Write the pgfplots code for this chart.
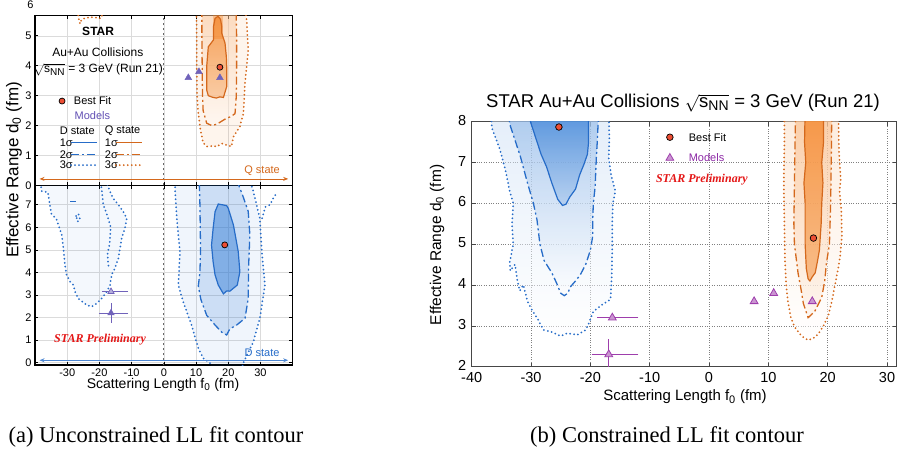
\documentclass[border=0pt]{standalone}
\usepackage{pgfplots}
\pgfplotsset{compat=1.18}
\usepackage{fontspec}
\setmainfont{Liberation Sans}
\newfontfamily\timesf{Liberation Serif}
\usetikzlibrary{arrows.meta}
\definecolor{cblue}{RGB}{38,108,200}
\definecolor{sblue}{RGB}{40,118,212}
\definecolor{corange}{RGB}{212,104,28}
\definecolor{sorange}{RGB}{244,128,30}
\definecolor{mpurple}{RGB}{158,62,172}
\definecolor{mtext}{RGB}{140,40,165}
\definecolor{lpurple}{RGB}{112,98,186}
\definecolor{ltext}{RGB}{98,80,180}
\definecolor{bfred}{RGB}{236,78,52}
\definecolor{prelim}{RGB}{228,22,22}
\definecolor{frame}{RGB}{70,70,70}
\newcommand{\fs}[1]{\fontsize{#1}{#1}\selectfont}
\newcommand{\sNN}[1]{$\sqrt{\mbox{s}_{\mbox{\fs{#1}NN}}}$}
\newcommand{\zsub}[1]{$_{\mbox{\fs{#1}0}}$}
\tikzset{
 sone/.style={line width=1.2pt},
 stwo/.style={line width=1.3pt, dash pattern=on 8pt off 3pt on 2pt off 3pt},
 sthree/.style={line width=2pt, line cap=round, dash pattern=on 0pt off 4pt},
}
\pgfplotsset{
 base/.style={scale only axis, anchor=south west, clip mode=individual,
   /pgf/number format/assume math mode=true, tick align=inside},
 leftax/.style={base, width=257.7pt, xmin=-40, xmax=40, xtick={-30,-20,...,30},
   axis line style={black, line width=1.1pt}, grid=major,
   major grid style={black!14, line width=0.5pt},
   tick style={black, line width=0.6pt}, major tick length=3.5pt,
   tick label style={font=\fs{11}}},
}
\begin{document}
\begin{tikzpicture}
\path[use as bounding box] (0pt,0pt) rectangle (907pt,453pt);

% ---------------- (a) top panel: Q state ----------------
\begin{axis}[leftax, name=qax, at={(35pt,267.5pt)}, height=169.8pt, ymin=0, ymax=5.67,
  ytick={0,...,5}, xticklabels={}]
\addplot[draw=none, fill=sorange, fill opacity=0.08] coordinates {(10.1,5.9) (10.2,5.0) (10.2,4.0) (10.3,3.0) (10.6,2.5) (11.3,1.9) (12.2,1.42) (13.5,1.3) (15.0,1.32) (16.5,1.3) (18.0,1.4) (19.5,1.35) (21.0,1.3) (21.6,1.63) (23.6,1.96) (24.7,2.41) (25.2,3.41) (26.2,4.52) (25.7,5.53) (25.2,5.9)} -- cycle;
\addplot[draw=none, top color=sorange!50, bottom color=sorange!5, fill opacity=0.5] coordinates {(11.8,5.9) (11.8,5.0) (11.9,4.0) (12.0,3.0) (12.2,2.5) (13.3,2.08) (14.9,2.0) (16.5,2.05) (18.0,2.15) (19.5,2.25) (20.8,2.3) (22.1,2.4) (22.5,3.0) (22.6,4.0) (22.6,5.0) (22.4,5.9)} -- cycle;
\addplot[draw=none, top color=sorange, bottom color=sorange!55, fill opacity=0.65] coordinates {(15.9,5.58) (16.8,5.65) (17.6,5.55) (18.0,5.3) (18.0,5.08) (19.0,4.75) (19.4,4.3) (19.5,3.97) (19.5,3.3) (18.5,2.94) (17.4,2.96) (16.3,2.92) (15.0,2.95) (13.8,3.0) (13.3,3.19) (13.3,3.97) (13.8,4.63) (15.4,4.86) (15.4,5.3)} -- cycle;
\addplot[draw=none, fill=sorange, fill opacity=0.35] coordinates {(15.4,5.9) (15.4,4.9) (18.3,4.9) (18.3,5.9)} -- cycle;
% contours
\addplot[corange, sthree] coordinates {(10.1,5.9) (10.2,5.0) (10.2,4.0) (10.3,3.0) (10.6,2.5) (11.3,1.9) (12.2,1.42) (13.5,1.3) (15.0,1.32) (16.5,1.3) (18.0,1.4) (19.5,1.35) (21.0,1.3) (21.6,1.63) (23.6,1.96) (24.7,2.41) (25.2,3.41) (26.2,4.52) (25.7,5.53) (25.2,5.9)};
\addplot[corange, stwo] coordinates {(11.8,5.9) (11.8,5.0) (11.9,4.0) (12.0,3.0) (12.2,2.5) (13.3,2.08) (14.9,2.0) (16.5,2.05) (18.0,2.15) (19.5,2.25) (20.8,2.3) (22.1,2.4) (22.5,3.0) (22.6,4.0) (22.6,5.0) (22.4,5.9)};
\addplot[corange, sone] coordinates {(15.9,5.58) (16.8,5.65) (17.6,5.55) (18.0,5.3) (18.0,5.08) (19.0,4.75) (19.4,4.3) (19.5,3.97) (19.5,3.3) (18.5,2.94) (17.4,2.96) (16.3,2.92) (15.0,2.95) (13.8,3.0) (13.3,3.19) (13.3,3.97) (13.8,4.63) (15.4,4.86) (15.4,5.3)} -- cycle;
\addplot[corange, sthree] coordinates {(-26.8,5.95) (-26.5,5.6) (-26.0,5.4) (-25.5,5.55) (-24.0,5.6) (-22.0,5.62) (-19.5,5.58) (-19.0,5.75) (-19.5,5.95)};
% zero line
\addplot[black!60, line width=1pt, dash pattern=on 2.5pt off 2.5pt] coordinates {(0,-1) (0,7)};
% Q state arrow
\addplot[corange, line width=0.8pt, arrows={Stealth[length=5pt,width=4pt]-Stealth[length=5pt,width=4pt]}] coordinates {(-38.6,0.22) (38.6,0.22)};
\node[corange, font=\fs{11}] at (axis cs:30.5,0.5) {Q state};
% markers
\addplot[only marks, mark=triangle*, mark size=3.9pt, mark options={fill=lpurple, draw=lpurple}] coordinates {(7.6,3.6) (10.9,3.8) (17.4,3.6)};
\addplot[only marks, mark=*, mark size=3pt, mark options={fill=bfred, draw=black, line width=0.7pt}] coordinates {(17.4,3.95)};
% text
\node[font=\bfseries\fs{12}] at (axis cs:-20.4,5.13) {STAR};
\node[font=\fs{12}] at (axis cs:-20.5,4.46) {Au+Au Collisions};
\node[font=\fs{12}] at (axis cs:-20.3,3.86) {\sNN{10} = 3 GeV (Run 21)};
\addplot[only marks, mark=*, mark size=3pt, mark options={fill=bfred, draw=black, line width=0.7pt}] coordinates {(-31.6,2.82)};
\node[font=\fs{11}, anchor=west] at (axis cs:-29.0,2.82) {Best Fit};
\node[font=\fs{11}, anchor=west, ltext] at (axis cs:-28.8,2.35) {Models};
\node[font=\fs{11}, anchor=west] at (axis cs:-33.4,1.83) {D state};
\node[font=\fs{11}, anchor=west] at (axis cs:-19.4,1.83) {Q state};
\node[font=\fs{11}, anchor=west] at (axis cs:-33.4,1.44) {1σ};
\node[font=\fs{11}, anchor=west] at (axis cs:-33.4,1.03) {2σ};
\node[font=\fs{11}, anchor=west] at (axis cs:-33.4,0.68) {3σ};
\node[font=\fs{11}, anchor=west] at (axis cs:-19.4,1.44) {1σ};
\node[font=\fs{11}, anchor=west] at (axis cs:-19.4,1.03) {2σ};
\node[font=\fs{11}, anchor=west] at (axis cs:-19.4,0.68) {3σ};
\addplot[cblue, sone] coordinates {(-28.8,1.44) (-20.6,1.44)};
\addplot[cblue, stwo] coordinates {(-28.8,1.03) (-20.6,1.03)};
\addplot[cblue, sthree] coordinates {(-28.8,0.68) (-20.6,0.68)};
\addplot[corange, sone] coordinates {(-14.9,1.44) (-6.7,1.44)};
\addplot[corange, stwo] coordinates {(-14.9,1.03) (-6.7,1.03)};
\addplot[corange, sthree] coordinates {(-14.9,0.68) (-6.7,0.68)};
\end{axis}
\node[font=\fs{11}] at (30.5pt,448pt) {6};

% ---------------- (a) bottom panel: D state ----------------
\begin{axis}[leftax, name=dax, at={(35pt,88pt)}, height=179.5pt, ymin=-0.1, ymax=7.85, ytick={0,...,7}]
% left blob
\addplot[draw=none, fill=sblue, fill opacity=0.05] coordinates {(-38.3,7.95) (-37.9,7.6) (-36.0,7.55) (-35.4,7.0) (-34.9,6.6) (-33.3,6.35) (-32.5,6.0) (-31.7,5.66) (-31.2,5.07) (-30.7,4.33) (-30.2,3.89) (-29.1,3.59) (-28.1,3.44) (-27.6,3.15) (-26.6,2.85) (-24.0,2.56) (-22.4,2.48) (-20.8,2.63) (-19.3,2.85) (-17.7,3.15) (-16.7,3.44) (-16.2,3.89) (-15.2,4.18) (-14.1,4.63) (-13.6,5.07) (-13.1,5.51) (-12.1,5.95) (-11.5,6.4) (-12.6,6.69) (-14.1,6.99) (-15.7,7.28) (-16.7,7.57) (-17.7,7.95)} -- cycle;
\addplot[cblue, sthree] coordinates {(-38.3,7.95) (-37.9,7.6) (-36.0,7.55) (-35.4,7.0) (-34.9,6.6) (-33.3,6.35) (-32.5,6.0) (-31.7,5.66) (-31.2,5.07) (-30.7,4.33) (-30.2,3.89) (-29.1,3.59) (-28.1,3.44) (-27.6,3.15) (-26.6,2.85) (-24.0,2.56) (-22.4,2.48) (-20.8,2.63) (-19.3,2.85) (-17.7,3.15) (-16.7,3.44) (-16.2,3.89) (-15.2,4.18) (-14.1,4.63) (-13.6,5.07) (-13.1,5.51) (-12.1,5.95) (-11.5,6.4) (-12.6,6.69) (-14.1,6.99) (-15.7,7.28) (-16.7,7.57) (-17.7,7.95)};
\addplot[cblue, sthree] coordinates {(-19.5,7.95) (-18.8,7.0) (-17.5,6.5) (-16.5,6.0) (-16.8,5.3) (-17.5,4.8) (-17.2,4.3)};
\addplot[cblue, sone] coordinates {(-29.0,7.13) (-27.4,7.13)};
\addplot[cblue, sthree] coordinates {(-27.2,6.5) (-26.5,6.6) (-26.0,6.35) (-26.8,6.25)} -- cycle;
% right blob fills
\addplot[draw=none, fill=sblue, fill opacity=0.07] coordinates {(3.5,7.95) (3.5,7.6) (4.0,6.4) (5.0,4.92) (4.5,3.44) (6.0,2.7) (8.6,1.67) (10.7,0.64) (12.2,0.2) (14.3,0.0) (15,-0.4) (24,-0.4) (24.7,0.0) (27.8,0.93) (29.8,1.97) (31.4,3.44) (30.4,4.92) (29.8,6.4) (27.8,7.58) (27.0,7.95)} -- cycle;
\addplot[draw=none, fill=sblue, fill opacity=0.18] coordinates {(11.0,7.95) (11.2,7.0) (11.3,6.0) (11.4,5.0) (11.2,4.0) (10.7,3.4) (11.5,2.8) (13.3,2.1) (15.9,1.67) (18.0,1.35) (19.5,1.23) (20.5,1.5) (22.6,1.67) (25.2,1.97) (26.2,2.85) (26.3,4.2) (26.7,5.66) (26.2,6.7) (24.5,7.4) (23.0,7.95)} -- cycle;
\addplot[draw=none, fill=sblue, fill opacity=0.45] coordinates {(16.9,7.03) (19.5,6.96) (20.0,6.84) (21.6,6.1) (23.1,4.92) (23.6,4.03) (22.8,3.44) (21.6,3.3) (20.5,3.17) (19.5,3.18) (18.5,3.05) (16.9,3.44) (15.9,3.89) (15.3,4.47) (14.8,5.21) (15.3,5.95) (15.9,6.69)} -- cycle;
% right blob contours
\addplot[cblue, sthree] coordinates {(3.5,7.95) (3.5,7.6) (4.0,6.4) (5.0,4.92) (4.5,3.44) (6.0,2.7) (8.6,1.67) (10.7,0.64) (12.2,0.2) (14.3,0.0) (15,-0.4) (24,-0.4) (24.7,0.0) (27.8,0.93) (29.8,1.97) (31.4,3.44) (30.4,4.92) (29.8,6.4) (27.8,7.58) (27.0,7.95)};
\addplot[cblue, sthree] coordinates {(30.5,6.4) (31.5,6.9) (33.0,7.0) (34.0,7.3) (35.0,7.5)};
\addplot[cblue, stwo] coordinates {(11.0,7.95) (11.2,7.0) (11.3,6.0) (11.4,5.0) (11.2,4.0) (10.7,3.4) (11.5,2.8) (13.3,2.1) (15.9,1.67) (18.0,1.35) (19.5,1.23) (20.5,1.5) (22.6,1.67) (25.2,1.97) (26.2,2.85) (26.3,4.2) (26.7,5.66) (26.2,6.7) (24.5,7.4) (23.0,7.95)};
\addplot[cblue, sone] coordinates {(16.9,7.03) (19.5,6.96) (20.0,6.84) (21.6,6.1) (23.1,4.92) (23.6,4.03) (22.8,3.44) (21.6,3.3) (20.5,3.17) (19.5,3.18) (18.5,3.05) (16.9,3.44) (15.9,3.89) (15.3,4.47) (14.8,5.21) (15.3,5.95) (15.9,6.69)} -- cycle;
% zero line
\addplot[black!60, line width=1pt, dash pattern=on 2.5pt off 2.5pt] coordinates {(0,-1) (0,9)};
% D state arrow
\addplot[cblue!80, line width=0.8pt, arrows={Stealth[length=5pt,width=4pt]-Stealth[length=5pt,width=4pt]}] coordinates {(-38.6,0.11) (38.6,0.11)};
\node[cblue, font=\fs{11}] at (axis cs:30.5,0.43) {D state};
% models
\addplot[only marks, mark=triangle*, mark size=3.6pt, mark options={fill=lpurple!50, draw=lpurple, line width=0.7pt},
  error bars/.cd, x dir=both, x explicit, error bar style={lpurple, line width=0.8pt}, error mark options={lpurple, mark size=2.5pt, line width=0.8pt}]
  coordinates {(-16.4,3.15) += (4.5,0) -= (1.9,0)};
\addplot[only marks, mark=triangle*, mark size=3.6pt, mark options={fill=lpurple, draw=lpurple, line width=0.7pt},
  error bars/.cd, x dir=both, x explicit, y dir=both, y explicit, error bar style={lpurple, line width=0.8pt}, error mark options={lpurple, mark size=2.5pt, line width=0.8pt}]
  coordinates {(-16.4,2.2) += (4.5,0.32) -= (3.0,0.32)};
\addplot[only marks, mark=*, mark size=3pt, mark options={fill=bfred, draw=black, line width=0.7pt}] coordinates {(18.9,5.22)};
\node[prelim, font=\timesf\bfseries\itshape\fs{12}] at (axis cs:-19.8,1.04) {STAR Preliminary};
\end{axis}

\node[rotate=90, font=\fs{17}] at (14pt,283pt) {Effective Range d\zsub{12} (fm)};
\node[font=\fs{14}] at (163pt,68pt) {Scattering Length f\zsub{10} (fm)};

% ---------------- (b) constrained ----------------
\begin{axis}[base, at={(471.7pt,86.3pt)}, width=424.8pt, height=245pt, xmin=-40, xmax=31.6, ymin=2, ymax=8,
  xtick={-40,-30,...,30}, ytick={2,...,8}, grid=major,
  major grid style={black!50, dotted, line width=0.6pt},
  axis line style={frame, line width=1.1pt}, tick style={frame, line width=0.6pt}, major tick length=4pt,
  tick label style={font=\fs{14.5}}, xticklabel style={yshift=-2.5pt}, yticklabel style={xshift=-2pt, yshift=1.5pt}]
% blue fills
\addplot[draw=none, top color=sblue!25, bottom color=white, fill opacity=0.5] coordinates {(-36.8,8.3) (-36.6,7.85) (-35.2,7.3) (-34.3,6.8) (-33.6,6.3) (-33,6) (-33.2,5.5) (-33,5) (-33.6,4.55) (-33.5,4.35) (-32.7,4.5) (-32.3,4.1) (-31.9,3.86) (-31.3,4.0) (-30.6,3.6) (-29.7,3.35) (-29,3.2) (-27.9,2.9) (-26.5,2.85) (-25,2.75) (-23.9,2.82) (-22.2,2.78) (-20.8,2.9) (-20.3,3.05) (-19.5,3.35) (-18.2,3.5) (-16.6,3.65) (-16.4,4.2) (-16.3,5) (-16.3,5.6) (-16.2,6.0) (-15.8,6.3) (-16.5,6.7) (-16.9,7.1) (-16.8,7.6) (-16.9,8.3)} -- cycle;
\addplot[draw=none, top color=sblue!60, bottom color=white, fill opacity=0.55] coordinates {(-34,8.3) (-33.5,7.9) (-31.8,7.15) (-30.6,6.5) (-29.6,6.0) (-29.0,5.6) (-28.5,5.0) (-27.8,4.6) (-26.5,4.3) (-25.7,4.05) (-25.0,3.8) (-24.4,3.74) (-23.8,3.8) (-23.4,3.95) (-22.5,4.1) (-21.7,4.25) (-20.8,4.5) (-20.0,4.85) (-19.6,5.2) (-19.6,5.6) (-19.5,6.0) (-19.2,6.4) (-19.0,7.1) (-18.8,7.6) (-18.6,8.3)} -- cycle;
\addplot[draw=none, top color=sblue, bottom color=sblue!40, fill opacity=0.65] coordinates {(-30.3,8.3) (-30.1,8) (-29.2,7.6) (-28.3,7.2) (-27.4,6.9) (-26.5,6.5) (-25.5,6.1) (-24.7,5.95) (-24.1,5.98) (-23.5,6.15) (-22.5,6.35) (-21.8,6.7) (-21.1,6.95) (-20.5,7.2) (-20.3,7.5) (-20.3,7.9) (-20.4,8.3)} -- cycle;
% orange fills
\addplot[draw=none, top color=sorange!30, bottom color=white, fill opacity=0.5] coordinates {(12.7,8.3) (12.7,7.5) (12.6,6.5) (12.7,5.5) (12.8,4.6) (13.0,4.0) (13.3,3.6) (13.8,3.2) (14.4,2.98) (15.6,2.75) (16.7,2.65) (17.6,2.7) (18.4,2.8) (19.3,3.0) (20.1,3.25) (20.7,3.6) (21.2,3.98) (21.7,4.35) (22.1,4.7) (22.4,5.2) (22.3,5.8) (22.0,6.3) (22.2,6.6) (21.9,7.3) (21.8,8.3)} -- cycle;
\addplot[draw=none, top color=sorange!55, bottom color=sorange!10, fill opacity=0.6] coordinates {(14.6,8.3) (14.5,7.5) (14.4,6.5) (14.3,5.5) (14.4,5.0) (15.0,4.3) (15.5,3.9) (15.9,3.55) (16.7,3.2) (17.8,3.35) (19.0,3.7) (19.5,4.1) (19.8,4.55) (20.3,5.0) (20.5,6.0) (20.6,7.0) (20.7,8.3)} -- cycle;
\addplot[draw=none, top color=sorange, bottom color=sorange!70, fill opacity=0.7] coordinates {(16.2,8.3) (16.1,7.5) (16.3,7.0) (16.0,6.5) (16.2,6.0) (16.2,5.0) (16.4,4.4) (16.7,4.15) (17.0,4.1) (17.4,4.2) (17.9,4.3) (18.3,4.6) (18.6,4.85) (18.9,5.5) (19.0,6.0) (19.2,6.5) (19.0,7.0) (19.3,7.5) (19.3,8.3)} -- cycle;
% blue contours
\addplot[cblue, sthree] coordinates {(-36.8,8.3) (-36.6,7.85) (-35.2,7.3) (-34.3,6.8) (-33.6,6.3) (-33,6) (-33.2,5.5) (-33,5) (-33.6,4.55) (-33.5,4.35) (-32.7,4.5) (-32.3,4.1) (-31.9,3.86) (-31.3,4.0) (-30.6,3.6) (-29.7,3.35) (-29,3.2) (-27.9,2.9) (-26.5,2.85) (-25,2.75) (-23.9,2.82) (-22.2,2.78) (-20.8,2.9) (-20.3,3.05) (-19.5,3.35) (-18.2,3.5) (-16.6,3.65) (-16.4,4.2) (-16.3,5) (-16.3,5.6) (-16.2,6.0) (-15.8,6.3) (-16.5,6.7) (-16.9,7.1) (-16.8,7.6) (-16.9,8.3)};
\addplot[cblue, stwo] coordinates {(-34,8.3) (-33.5,7.9) (-31.8,7.15) (-30.6,6.5) (-29.6,6.0) (-29.0,5.6) (-28.5,5.0) (-27.8,4.6) (-26.5,4.3) (-25.7,4.05) (-25.0,3.8) (-24.4,3.74) (-23.8,3.8) (-23.4,3.95) (-22.5,4.1) (-21.7,4.25) (-20.8,4.5) (-20.0,4.85) (-19.6,5.2) (-19.6,5.6) (-19.5,6.0) (-19.2,6.4) (-19.0,7.1) (-18.8,7.6) (-18.6,8.3)};
\addplot[cblue, sone] coordinates {(-30.3,8.3) (-30.1,8) (-29.2,7.6) (-28.3,7.2) (-27.4,6.9) (-26.5,6.5) (-25.5,6.1) (-24.7,5.95) (-24.1,5.98) (-23.5,6.15) (-22.5,6.35) (-21.8,6.7) (-21.1,6.95) (-20.5,7.2) (-20.3,7.5) (-20.3,7.9) (-20.4,8.3)};
% orange contours
\addplot[corange, sthree] coordinates {(12.7,8.3) (12.7,7.5) (12.6,6.5) (12.7,5.5) (12.8,4.6) (13.0,4.0) (13.3,3.6) (13.8,3.2) (14.4,2.98) (15.6,2.75) (16.7,2.65) (17.6,2.7) (18.4,2.8) (19.3,3.0) (20.1,3.25) (20.7,3.6) (21.2,3.98) (21.7,4.35) (22.1,4.7) (22.4,5.2) (22.3,5.8) (22.0,6.3) (22.2,6.6) (21.9,7.3) (21.8,8.3)};
\addplot[corange, stwo] coordinates {(14.6,8.3) (14.5,7.5) (14.4,6.5) (14.3,5.5) (14.4,5.0) (15.0,4.3) (15.5,3.9) (15.9,3.55) (16.7,3.2) (17.8,3.35) (19.0,3.7) (19.5,4.1) (19.8,4.55) (20.3,5.0) (20.5,6.0) (20.6,7.0) (20.7,8.3)};
\addplot[corange, sone] coordinates {(16.2,8.3) (16.1,7.5) (16.3,7.0) (16.0,6.5) (16.2,6.0) (16.2,5.0) (16.4,4.4) (16.7,4.15) (17.0,4.1) (17.4,4.2) (17.9,4.3) (18.3,4.6) (18.6,4.85) (18.9,5.5) (19.0,6.0) (19.2,6.5) (19.0,7.0) (19.3,7.5) (19.3,8.3)};
% models
\addplot[only marks, mark=triangle*, mark size=4.5pt, mark options={fill=mpurple!55, draw=mpurple, line width=0.8pt}] coordinates {(7.6,3.6) (10.9,3.8) (17.4,3.6)};
\addplot[only marks, mark=triangle*, mark size=4.5pt, mark options={fill=mpurple!55, draw=mpurple, line width=0.8pt},
  error bars/.cd, x dir=both, x explicit, error bar style={mpurple, line width=0.9pt}, error mark options={mpurple, mark size=3pt, line width=0.9pt}]
  coordinates {(-16.3,3.2) += (3.9,0) -= (2.0,0)};
\addplot[only marks, mark=triangle*, mark size=4.5pt, mark options={fill=mpurple!55, draw=mpurple, line width=0.8pt},
  error bars/.cd, x dir=both, x explicit, y dir=both, y explicit, error bar style={mpurple, line width=0.9pt}, error mark options={mpurple, mark size=3pt, line width=0.9pt}]
  coordinates {(-16.9,2.3) += (4.5,0.3) -= (2.4,0.5)};
% best fits
\addplot[only marks, mark=*, mark size=3.3pt, mark options={fill=bfred, draw=black, line width=0.7pt}] coordinates {(-25.3,7.87) (17.6,5.15)};
% legend
\addplot[only marks, mark=*, mark size=3.3pt, mark options={fill=bfred, draw=black, line width=0.7pt}] coordinates {(-6.6,7.62)};
\addplot[only marks, mark=triangle*, mark size=4.5pt, mark options={fill=mpurple!55, draw=mpurple, line width=0.8pt}] coordinates {(-6.6,7.11)};
\node[font=\fs{11}, anchor=west] at (axis cs:-4.0,7.62) {Best Fit};
\node[font=\fs{11}, anchor=west, mtext] at (axis cs:-4.0,7.11) {Models};
\node[prelim, font=\timesf\bfseries\itshape\fs{12}] at (axis cs:-1.2,6.59) {STAR Preliminary};
\end{axis}

\node[font=\fs{18.5}] at (683pt,350pt) {STAR Au+Au Collisions \sNN{14} = 3 GeV (Run 21)};
\node[rotate=90, font=\fs{15.5}] at (437pt,208pt) {Effective Range d\zsub{11} (fm)};
\node[font=\fs{15}] at (685pt,56pt) {Scattering Length f\zsub{11} (fm)};

\node[font=\timesf\fs{22.5}] at (156pt,16pt) {(a) Unconstrained LL fit contour};
\node[font=\timesf\fs{22.5}] at (667pt,16pt) {(b) Constrained LL fit contour};
\end{tikzpicture}
\end{document}
